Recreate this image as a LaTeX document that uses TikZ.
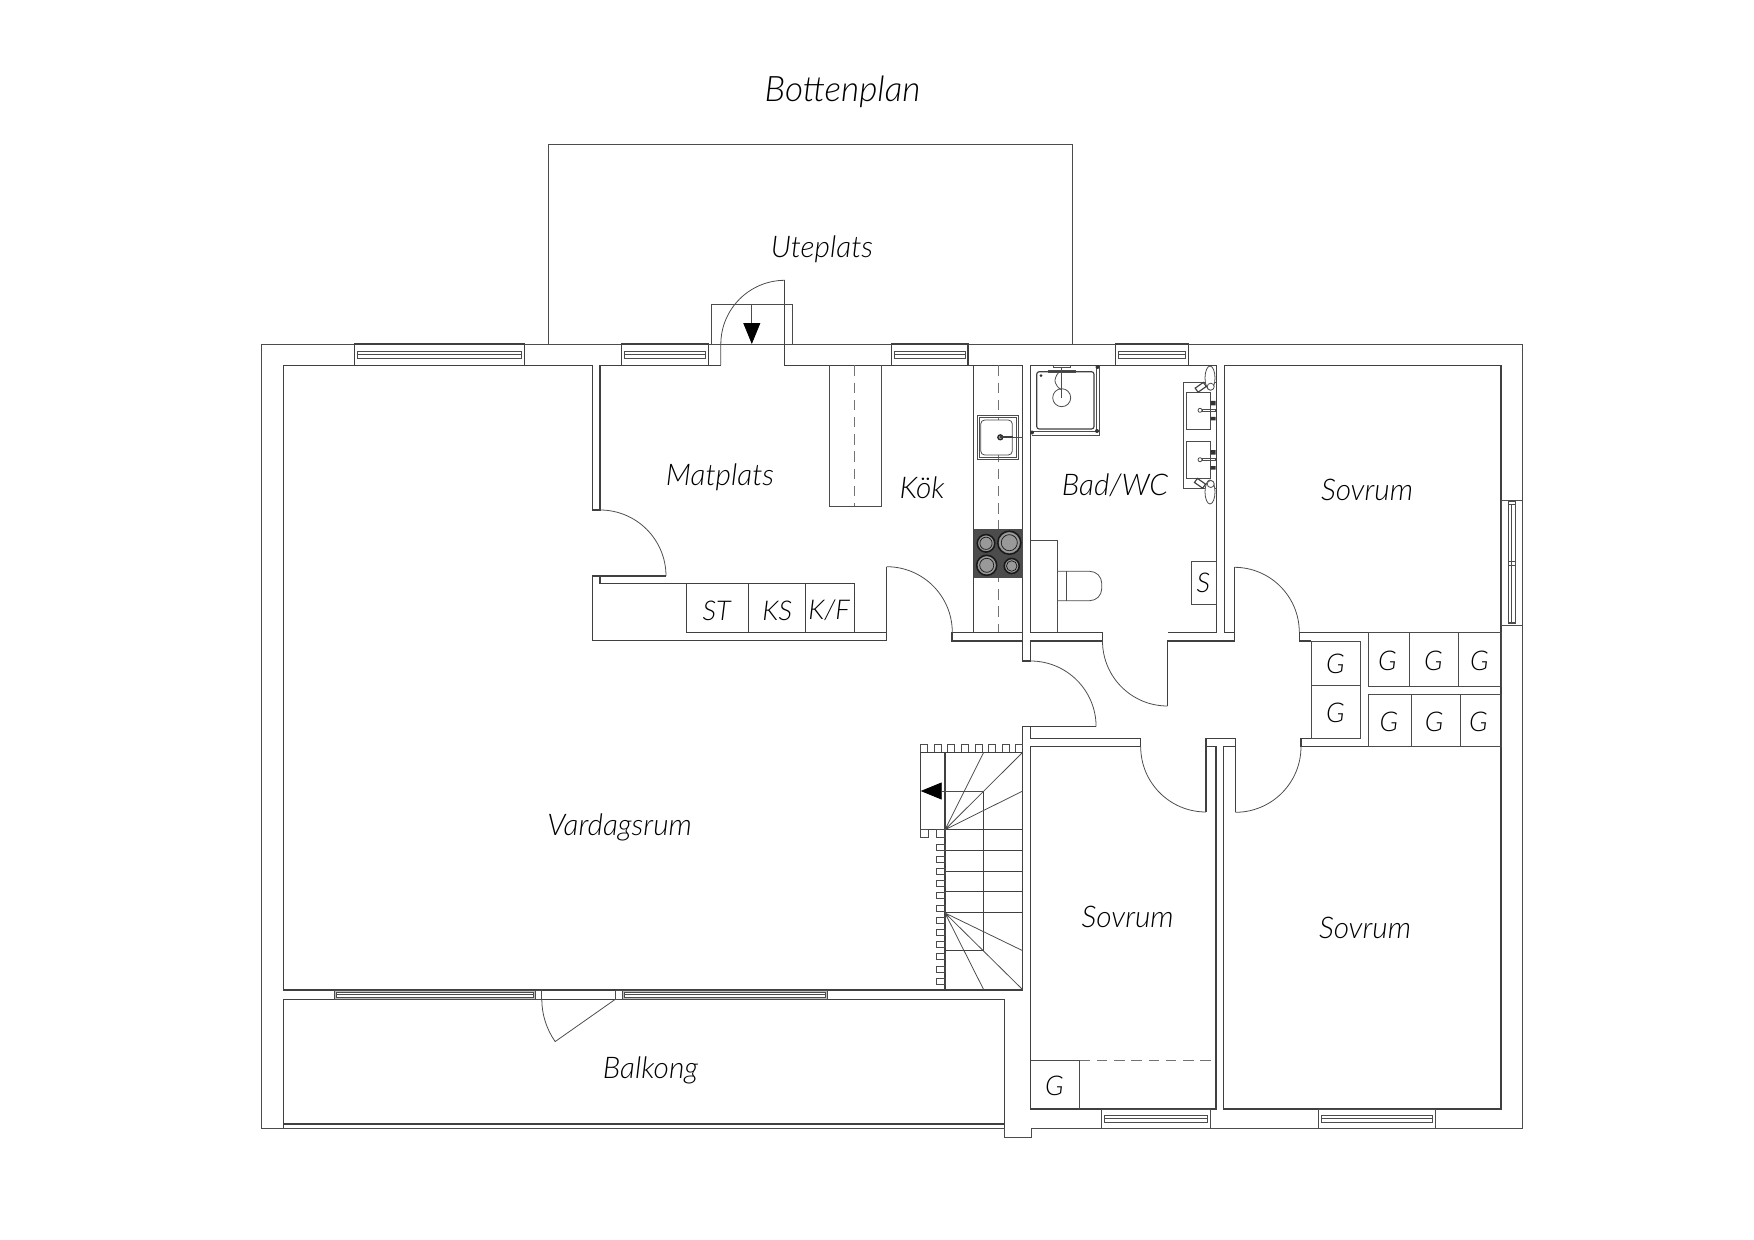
\documentclass[tikz,border=0pt]{standalone}
\usepackage{fontspec}
\setmainfont{Lato}[ItalicFont={Lato Light Italic}]
\usetikzlibrary{arrows.meta}

\begin{document}
\begin{tikzpicture}[x=.02cm, y=-.02cm,
  wall/.style={line width=.65pt, black!75},
  fine/.style={line width=.45pt, black!70},
  dashline/.style={line width=.45pt, black!55, dash pattern=on 6pt off 3.8pt},
  room/.style={font=\itshape\fontsize{17}{18}\selectfont, text=black, inner sep=0pt},
  unit/.style={font=\itshape\fontsize{15.5}{18}\selectfont, text=black, inner sep=0pt},
  downtip/.style={-{Triangle[length=.42cm,width=.34cm,black]}}]
\useasboundingbox (0,0) rectangle (1754,1240);

%outer walls
\draw[fine] (261.6,344) -- (1522.5,344) -- (1522.5,1128) -- (1030.9,1128) -- (1030.9,1137.7) -- (1004.4,1137.7) -- (1004.4,1128) -- (261.6,1128) -- cycle;
\draw[fine] (548.6,344) -- (548.6,144) -- (1072,144) -- (1072,344);
\draw[wall] (283.7,999.3) -- (1004.4,999.3) -- (1004.4,1128) (283.7,999.3) -- (283.7,1128);
\draw[wall] (283.7,1124) -- (1004.4,1124);

%inner walls
\draw[wall] (592.2,510) -- (592.2,365.3) -- (283.5,365.3) -- (283.5,990) -- (1022.7,990) -- (1022.7,726.7) -- (1096,726.7);
\draw[wall] (592.2,510) -- (600,510) -- (600,365.3) -- (720.8,365.3);
\draw[wall] (784.9,280.3) -- (784.9,365.3) -- (1022.7,365.3) -- (1022.7,661) -- (1030.5,661) -- (1030.5,641) -- (1102.5,641) -- (1102.5,632.3) -- (1030.5,632.3) -- (1030.5,365.3) -- (1216.5,365.3) -- (1216.5,632.3) -- (1167.5,632.3);
\draw[wall] (1167.5,706) -- (1167.5,641) -- (1234.3,641) -- (1234.3,567.3);
\draw[wall] (1234.3,632.3) -- (1224.3,632.3) -- (1224.3,365.3) -- (1501,365.3) -- (1501,1109) -- (1223.7,1109) -- (1223.7,746.7) -- (1235.4,746.7);
\draw[wall] (1501,632.3) -- (1299.3,632.3) -- (1299.3,641) -- (1311,641);
\draw[wall] (952,632.3) -- (1022.7,632.3);
\draw[wall] (952,632.3) -- (952,641) -- (1022.7,641);
\draw[wall] (666,576) -- (592.2,576) -- (592.2,640.7) -- (886.7,640.7) -- (886.7,566.7);
\draw[wall] (600,576) -- (600,583.7) -- (854.7,583.7) -- (854.7,632.3);
\draw[wall] (686.7,583.7) -- (686.7,632.3) -- (886.7,632.3);
\draw[wall] (748.3,583.7) -- (748.3,632.3);
\draw[wall] (805.7,583.7) -- (805.7,632.3);
\draw[wall] (973.7,365.3) -- (973.7,632.3);
\draw[wall] (1030.9,726.7) -- (1030.9,738.3) -- (1140.7,738.3) -- (1140.7,746.7) -- (1030.9,746.7) -- (1030.9,1109) -- (1216,1109) -- (1216,746.7) -- (1206,746.7);
\draw[wall] (1206,812) -- (1206,738.3) -- (1235.4,738.3) -- (1235.4,812.3);
\draw[wall] (1360,738.3) -- (1301,738.3) -- (1301,746.7) -- (1501,746.7);

%doors
\draw[fine] (784.9,280.3) arc[start angle=90, end angle=180, radius=1.282cm] -- (720.8,365.3);
\draw[fine] (600,510) arc[start angle=90, end angle=0, radius=1.32cm];
\draw[fine] (886.7,566.7) arc[start angle=90, end angle=0, radius=1.312cm];
\draw[fine] (1030.5,661) arc[start angle=90, end angle=0, radius=1.312cm];
\draw[fine] (1102.5,641) arc[start angle=180, end angle=270, radius=1.3cm];
\draw[fine] (1234.3,567.3) arc[start angle=90, end angle=0, radius=1.3cm];
\draw[fine] (1140.7,746.7) arc[start angle=180, end angle=270, radius=1.306cm];
\draw[fine] (1235.4,812.3) arc[start angle=270, end angle=360, radius=1.312cm];
\draw[fine] (541.8,999.3) arc[start angle=180, end angle=215.1, radius=1.47cm] -- (615.3,999.3);
\draw[fine] (711,344) -- (711,304.3) -- (792.7,304.3) -- (792.7,344);
\draw[fine, downtip] (751.8,304.3) -- (751.8,344);

%windows
\foreach \a/\b in {354.3/524.5, 621.6/708.6, 891.3/968, 1115.5/1188.8} {
  \draw[wall] (\a,344) rectangle (\b,365.3);
  \draw[fine] (\a+3,351) rectangle (\b-3,358.3);
  \draw[fine] (\a+3,354.6) -- (\b-3,354.6);
}
\foreach \a/\b in {1101/1210, 1318.4/1435.4} {
  \draw[fine] (\a,1109) rectangle (\b,1128);
  \draw[fine] (\a+3,1115) rectangle (\b-3,1122.7);
  \draw[fine] (\a+3,1118.8) -- (\b-3,1118.8);
}
\foreach \a/\b in {334.7/535.7, 622.4/827.6} {
  \draw[fine, fill=black!25] (\a,990) rectangle (\b,999.3);
  \draw[fine, fill=white] (\a+2,992) rectangle (\b-2,997.3);
  \draw[fine] (\a+2,994.6) -- (\b-2,994.6);
}
\draw[fine] (535.7,990) rectangle (541.8,999.3);
\draw[fine] (615.3,990) rectangle (622.4,999.3);
\draw[fine] (1501,500) rectangle (1522.5,625);
\draw[fine] (1508,501) rectangle (1515.3,623.3);
\draw[fine] (1511.6,504) -- (1511.6,622);
\draw[fine] (1508,504) -- (1515.3,504) (1508,561.7) -- (1515.3,561.7) (1508,565.3) -- (1515.3,565.3) (1508,622) -- (1515.3,622);

%stairs
\draw[wall] (920.7,752.3) rectangle (1022.7,829.7);
\draw[wall] (945,752.3) -- (945,990);
\draw[wall] (983.7,791) -- (983.7,950.7) -- (945,950.7);
\draw[fine, downtip] (983.7,791) -- (920.7,791);
\foreach \y in {850.3,871.3,891.7,912.3} {\draw[wall] (945,\y) -- (1022.7,\y);}
\draw[fine] (945,829.7) -- (983.7,752.3) (945,829.7) -- (1022.7,752.3) (945,829.7) -- (1022.7,791);
\draw[fine] (945,913) -- (1022.7,950.7) (945,913) -- (1022.7,989.7) (945,913) -- (983.7,989.7);
\foreach \x in {920.7,934.4,947.8,961.5,975.2,988.8,1002.5} {\draw[fine] (\x,752.3) -- (\x,744) -- (\x+6.7,744) -- (\x+6.7,752.3);}
\draw[fine] (1022.7,744) -- (1015.3,744) -- (1015.3,752.3);
\draw[fine] (920.7,829.7) rectangle (928.3,837.7);
\draw[fine] (936.7,829.7) rectangle (945,837.7);
\foreach \i in {0,...,11} {\draw[fine] (936.7,844+12.2*\i) rectangle (945,850+12.2*\i);}

%kitchen
\draw[fine] (829,365.3) -- (829,506) -- (881,506) -- (881,365.3);
\draw[dashline] (854.7,365.3) -- (854.7,506);
\draw[dashline] (998,365.3) -- (998,632.3);
\draw[fine] (977.3,415.7) rectangle (1018,459.3);
\draw[fine] (979,417.5) rectangle (1016.3,457.5);
\draw[fine, rounded corners=.08cm, fill=white] (980.7,420) rectangle (1012.3,455);
\draw[black!85, line width=.7pt, fill=black!40] (1000.3,437.3) circle[radius=.05cm];
\draw[wall, line width=1pt] (1000.3,437.3) -- (1013,437.3);
\draw[fine] (1013,437.3) -- (1022.7,437.3);
\fill[black!70] (973.7,528.7) rectangle (1022.7,577.7);
\foreach \x/\y/\r in {986/543.3/.175, 1009.3/542.7/.23, 986.7/565.3/.2, 1011.7/566/.15} {
  \draw[black!90, line width=.9pt, fill=black!40] (\x,\y) circle[radius=\r cm];
  \draw[black!90, line width=.4pt] (\x,\y) circle[radius=\r cm*.7];
}

%bath
\draw[fine] (1031.7,431.7) -- (1099,431.7) (1031.7,435) -- (1099,435) -- (1099,365.3) (1096.7,365.3) -- (1096.7,431.7);
\draw[wall, rounded corners=.05cm] (1036.7,371.7) rectangle (1094,429);
\draw[fine] (1061.7,397.7) circle[radius=.18cm];
\draw[fine] (1048.3,370) rectangle (1075,372.7);
\draw[fine] (1053,365.3) rectangle (1070,367.5);
\draw[fine] (1061.7,367.5) -- (1061.7,397.7);
\draw[fine] (1059,372) .. controls (1052,380) and (1055,386) .. (1061.7,390);
\fill[black!80] (1041,375.7) circle[radius=.03cm] (1032,432.5) circle[radius=.04cm] (1097,431) circle[radius=.04cm] (1097.5,367) circle[radius=.04cm];
\draw[fine] (1057.3,540) -- (1030.5,540);
\draw[fine] (1057.3,540) -- (1057.3,632.3);
\draw[fine, rounded corners=.24cm] (1057.3,571.3) -- (1101.7,571.3) -- (1101.7,600.7) -- (1057.3,600.7);
\draw[fine] (1066,571.3) -- (1066,600.7);
\draw[fine] (1191.7,561.3) rectangle (1216.5,604.7);
\draw[fine] (1216.5,382.3) -- (1183.7,382.3) -- (1183.7,488.3) -- (1216.5,488.3);
\foreach \y in {392.3,441.7} {
  \draw[fine, fill=white] (1186.3,\y) rectangle (1210.7,\y+36.7);
  \draw[fine] (1200,\y+18) circle[radius=.04cm];
  \draw[fine] (1202,\y+17) rectangle (1215,\y+19);
  \fill[black!80] (1210.7,\y+8.5) rectangle (1215.5,\y+13) (1210.7,\y+24.5) rectangle (1215.5,\y+28);
}
\foreach \y in {378,492} {\draw[fine, fill=white] (1210,\y) ellipse[x radius=.1cm, y radius=.24cm];}
\draw[fine, fill=white] (1210.7,386.7) circle[radius=.07cm];
\draw[fine, fill=white] (1210.7,484) circle[radius=.07cm];
\draw[wall, fill=white, rotate around={35:(1200.7,387.3)}] (1195.7,384.8) rectangle (1205.7,389.8);
\draw[wall, fill=white, rotate around={-35:(1200,483.3)}] (1195,480.8) rectangle (1205,485.8);

%closets
\draw[fine] (1311,641) rectangle (1360,738.3);
\draw[fine] (1311,685.3) -- (1360,685.3);
\draw[fine] (1367.9,632.3) rectangle (1501,686);
\draw[fine] (1409,632.3) -- (1409,686) (1458,632.3) -- (1458,686);
\draw[fine] (1367.9,694.3) rectangle (1501,746.7);
\draw[fine] (1411,694.3) -- (1411,746.7) (1460,694.3) -- (1460,746.7);
\draw[fine] (1030.9,1060.3) -- (1079.7,1060.3) -- (1079.7,1109);
\draw[dashline] (1079.7,1060.3) -- (1216,1060.3);

%labels
\node[room, font=\itshape\fontsize{20}{22}\selectfont] (bottenplan) at (842.5,92) {Bottenplan};
\node[room] (uteplats) at (822,249) {Uteplats};
\node[room] (matplats) at (720,477) {Matplats};
\node[room] (kok) at (922,488) {Kök};
\node[room] (bad) at (1115,485.5) {Bad/WC};
\node[room] (sovrumn) at (1367,490) {Sovrum};
\node[room] (vardagsrum) at (619.7,827.5) {Vardagsrum};
\node[room] (sovrumm) at (1127.7,917) {Sovrum};
\node[room] (sovrums) at (1365,928.3) {Sovrum};
\node[room] (balkong) at (650.5,1070.5) {Balkong};
\node[unit] (st) at (716.7,610.7) {ST};
\node[unit] (ks) at (777.3,611) {KS};
\node[unit] (kf) at (829,610.7) {K/F};
\node[unit] (s) at (1203.3,583.3) {S};
\foreach \i/\x/\y in {1/1335.3/664, 2/1335.3/713.3, 3/1387.4/661, 4/1433.3/661, 5/1479.3/661, 6/1389/722.3, 7/1434.2/722.3, 8/1478.4/722.3, 9/1054.5/1086} {\node[unit] (g\i) at (\x,\y) {G};}
\end{tikzpicture}
\end{document}
